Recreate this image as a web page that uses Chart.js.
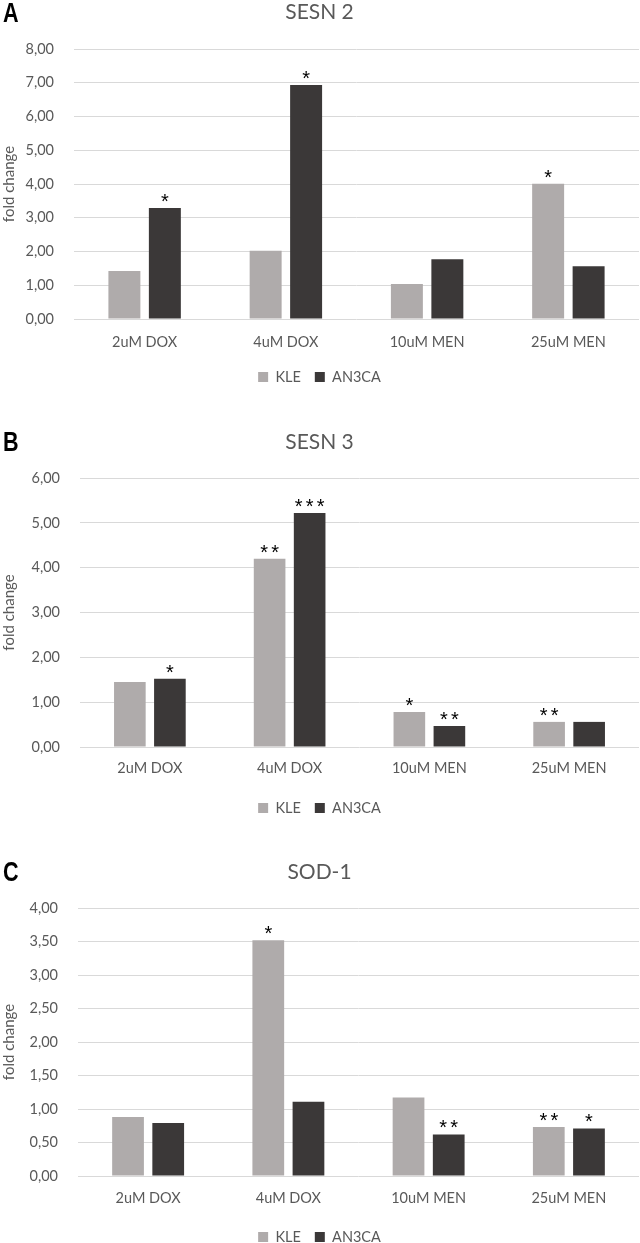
<!DOCTYPE html>
<html>
<head>
<meta charset="utf-8">
<script src="https://cdn.jsdelivr.net/npm/chart.js@4.4.1/dist/chart.umd.min.js"></script>
<style>
  html, body { margin: 0; padding: 0; background: #fff; overflow: hidden; }
  body { width: 640px; height: 1243px; position: relative; }
  .panel { position: absolute; left: 0; width: 640px; }
  .tag {
    position: absolute; left: 3px; color: #000;
    font: bold 27px "Liberation Sans", Arial, sans-serif; line-height: 1;
    transform: scaleX(0.8); transform-origin: left top;
  }
</style>
</head>
<body>
<div class="panel" style="top:0px"><canvas id="chartA" width="640" height="400"></canvas></div>
<div class="panel" style="top:400px"><canvas id="chartB" width="640" height="430"></canvas></div>
<div class="panel" style="top:830px"><canvas id="chartC" width="640" height="430"></canvas></div>
<div class="tag" style="top:0px">A</div>
<div class="tag" style="top:429px">B</div>
<div class="tag" style="top:859px">C</div>

<script>
// categories and series
const categories = ["2uM DOX", "4uM DOX", "10uM MEN", "25uM MEN"];
const seriesNames = ["KLE", "AN3CA"];

// SESN 2
const sesn2KLE = [1.42, 2.02, 1.04, 4.01];
const sesn2AN3CA = [3.29, 6.93, 1.77, 1.56];
const sesn2StarsKLE = ["", "", "", "*"];
const sesn2StarsAN3CA = ["*", "*", "", ""];

// SESN 3
const sesn3KLE = [1.45, 4.20, 0.78, 0.56];
const sesn3AN3CA = [1.52, 5.22, 0.47, 0.56];
const sesn3StarsKLE = ["", "**", "*", "**"];
const sesn3StarsAN3CA = ["*", "***", "**", ""];

// SOD-1
const sod1KLE = [0.88, 3.52, 1.17, 0.73];
const sod1AN3CA = [0.79, 1.11, 0.62, 0.71];
const sod1StarsKLE = ["", "*", "", "**"];
const sod1StarsAN3CA = ["", "", "**", "*"];

const textColor = "#595959";
const fontFamily = "Lato, 'Liberation Sans', sans-serif";

// significance stars above each bar
const starPlugin = {
  id: "stars",
  afterDatasetsDraw(chart) {
    const ctx = chart.ctx;
    ctx.save();
    ctx.fillStyle = "#000";
    ctx.font = "20px 'Liberation Sans', Arial, sans-serif";
    ctx.textAlign = "center";
    ctx.textBaseline = "alphabetic";
    chart.data.datasets.forEach((ds, i) => {
      chart.getDatasetMeta(i).data.forEach((bar, j) => {
        const s = ds.stars[j] || "";
        for (let k = 0; k < s.length; k++) {
          ctx.fillText("*", bar.x + (k - (s.length - 1) / 2) * 11, bar.y);
        }
      });
    });
    ctx.restore();
  },
};

function makeChart(id, title, kle, an3ca, starsKle, starsAn3ca, yMax, yStep, lay) {
  return new Chart(document.getElementById(id), {
    type: "bar",
    data: {
      labels: categories,
      datasets: [
        { label: seriesNames[0], data: kle, stars: starsKle, backgroundColor: "#AFABAB",
          categoryPercentage: 0.573, barPercentage: 0.79 },
        { label: seriesNames[1], data: an3ca, stars: starsAn3ca, backgroundColor: "#3B3838",
          categoryPercentage: 0.573, barPercentage: 0.79 },
      ],
    },
    options: {
      responsive: false,
      animation: false,
      layout: { padding: { top: 0, left: 0, right: 1, bottom: lay.bottom } },
      scales: {
        x: {
          grid: { display: false, drawTicks: false },
          border: { display: false },
          ticks: { color: textColor, font: { family: fontFamily, size: 14.5 }, padding: lay.xPad },
          afterFit(scale) { scale.height = lay.xHeight; },
        },
        y: {
          min: 0,
          max: yMax,
          grid: { color: "#D9D9D9", lineWidth: 1, drawTicks: false },
          border: { display: false },
          ticks: {
            stepSize: yStep,
            color: textColor,
            padding: 20,
            font: { family: fontFamily, size: 14.5 },
            callback: (v) => v.toFixed(2).replace(".", ","),
          },
          title: {
            display: true,
            text: "fold change",
            color: textColor,
            font: { family: fontFamily, size: 15 },
            padding: { top: 0, bottom: 0 },
          },
          afterFit(scale) { scale.width = lay.left; },
        },
      },
      plugins: {
        title: {
          display: true,
          text: title,
          color: textColor,
          font: { family: fontFamily, size: 21, weight: "normal" },
          padding: { top: lay.titleTop, bottom: lay.titleBottom },
        },
        legend: {
          position: "bottom",
          labels: {
            color: textColor,
            boxWidth: 10,
            boxHeight: 10,
            padding: 14,
            font: { family: fontFamily, size: 14.5 },
          },
        },
        tooltip: { enabled: false },
      },
    },
    plugins: [starPlugin],
  });
}

makeChart("chartA", "SESN 2", sesn2KLE, sesn2AN3CA, sesn2StarsKLE, sesn2StarsAN3CA, 8, 1,
  { titleTop: 0, titleBottom: 23.8, left: 74, xPad: 14.3, xHeight: 36.75, bottom: 5.75 });
makeChart("chartB", "SESN 3", sesn3KLE, sesn3AN3CA, sesn3StarsKLE, sesn3StarsAN3CA, 6, 1,
  { titleTop: 29.4, titleBottom: 23.4, left: 80, xPad: 12.3, xHeight: 39.75, bottom: 4.75 });
makeChart("chartC", "SOD-1", sod1KLE, sod1AN3CA, sod1StarsKLE, sod1StarsAN3CA, 4, 0.5,
  { titleTop: 29.4, titleBottom: 23.4, left: 78, xPad: 13.3, xHeight: 39.75, bottom: 5.75 });
</script>
</body>
</html>
